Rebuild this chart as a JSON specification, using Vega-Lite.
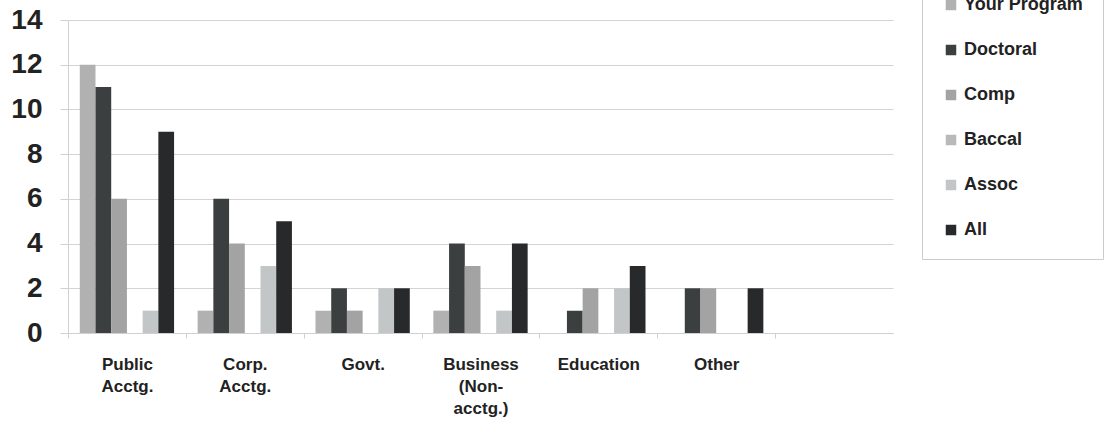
{
  "$schema": "https://vega.github.io/schema/vega-lite/v6.json",
  "width": 825,
  "height": 313,
  "autosize": "none",
  "padding": {"left": 68, "top": 20, "right": 224, "bottom": 104},
  "background": "white",
  "config": {
    "view": {"stroke": null},
    "font": "Liberation Sans"
  },
  "data": {
    "values": [
      {"category": "Public Acctg.", "series": "Your Program", "value": 12},
      {"category": "Public Acctg.", "series": "Doctoral", "value": 11},
      {"category": "Public Acctg.", "series": "Comp", "value": 6},
      {"category": "Public Acctg.", "series": "Baccal", "value": 0},
      {"category": "Public Acctg.", "series": "Assoc", "value": 1},
      {"category": "Public Acctg.", "series": "All", "value": 9},
      {"category": "Corp. Acctg.", "series": "Your Program", "value": 1},
      {"category": "Corp. Acctg.", "series": "Doctoral", "value": 6},
      {"category": "Corp. Acctg.", "series": "Comp", "value": 4},
      {"category": "Corp. Acctg.", "series": "Baccal", "value": 0},
      {"category": "Corp. Acctg.", "series": "Assoc", "value": 3},
      {"category": "Corp. Acctg.", "series": "All", "value": 5},
      {"category": "Govt.", "series": "Your Program", "value": 1},
      {"category": "Govt.", "series": "Doctoral", "value": 2},
      {"category": "Govt.", "series": "Comp", "value": 1},
      {"category": "Govt.", "series": "Baccal", "value": 0},
      {"category": "Govt.", "series": "Assoc", "value": 2},
      {"category": "Govt.", "series": "All", "value": 2},
      {"category": "Business (Non-acctg.)", "series": "Your Program", "value": 1},
      {"category": "Business (Non-acctg.)", "series": "Doctoral", "value": 4},
      {"category": "Business (Non-acctg.)", "series": "Comp", "value": 3},
      {"category": "Business (Non-acctg.)", "series": "Baccal", "value": 0},
      {"category": "Business (Non-acctg.)", "series": "Assoc", "value": 1},
      {"category": "Business (Non-acctg.)", "series": "All", "value": 4},
      {"category": "Education", "series": "Your Program", "value": 0},
      {"category": "Education", "series": "Doctoral", "value": 1},
      {"category": "Education", "series": "Comp", "value": 2},
      {"category": "Education", "series": "Baccal", "value": 0},
      {"category": "Education", "series": "Assoc", "value": 2},
      {"category": "Education", "series": "All", "value": 3},
      {"category": "Other", "series": "Your Program", "value": 0},
      {"category": "Other", "series": "Doctoral", "value": 2},
      {"category": "Other", "series": "Comp", "value": 2},
      {"category": "Other", "series": "Baccal", "value": 0},
      {"category": "Other", "series": "Assoc", "value": 0},
      {"category": "Other", "series": "All", "value": 2}
    ]
  },
  "mark": {"type": "bar"},
  "encoding": {
    "x": {
      "field": "category",
      "type": "nominal",
      "sort": null,
      "scale": {
        "domain": ["Public Acctg.", "Corp. Acctg.", "Govt.", "Business (Non-acctg.)", "Education", "Other", ""],
        "paddingInner": 0.2,
        "paddingOuter": 0.1
      },
      "axis": {
        "title": null,
        "labelAngle": 0,
        "labelExpr": "split(replace(replace(datum.value, ' ', '|'), '-', '-|'), '|')",
        "labelFont": "Liberation Sans",
        "labelFontSize": 17,
        "labelFontWeight": "bold",
        "labelColor": "#222222",
        "labelLineHeight": 22,
        "labelPadding": 18,
        "labelBaseline": "top",
        "labelOffset": 59,
        "domainColor": "#d0d0d0",
        "tickColor": "#d0d0d0",
        "tickSize": 5,
        "tickOffset": -59
      }
    },
    "xOffset": {
      "field": "series",
      "type": "nominal",
      "sort": ["Your Program", "Doctoral", "Comp", "Baccal", "Assoc", "All"],
      "scale": {"paddingInner": 0, "paddingOuter": 0}
    },
    "y": {
      "field": "value",
      "type": "quantitative",
      "scale": {"domain": [0, 14], "nice": false},
      "axis": {
        "title": null,
        "values": [0, 2, 4, 6, 8, 10, 12, 14],
        "labelFont": "Liberation Sans",
        "labelFontSize": 28,
        "labelFontWeight": "bold",
        "labelColor": "#222222",
        "labelPadding": 18,
        "ticks": true,
        "tickSize": 8,
        "tickColor": "#d0d0d0",
        "domainColor": "#d0d0d0",
        "gridColor": "#d4d4d4",
        "gridWidth": 1
      }
    },
    "color": {
      "field": "series",
      "type": "nominal",
      "sort": ["Your Program", "Doctoral", "Comp", "Baccal", "Assoc", "All"],
      "scale": {
        "domain": ["Your Program", "Doctoral", "Comp", "Baccal", "Assoc", "All"],
        "range": ["#b1b1b1", "#3c3f3f", "#a3a3a3", "#b9b9b9", "#c3c6c6", "#27292a"]
      },
      "legend": {
        "title": null,
        "orient": "none",
        "legendX": 854,
        "legendY": -44,
        "symbolType": "square",
        "symbolSize": 110,
        "symbolStrokeWidth": 0,
        "labelFont": "Liberation Sans",
        "labelFontSize": 18,
        "labelFontWeight": "bold",
        "labelColor": "#222222",
        "labelLimit": 300,
        "rowPadding": 27,
        "padding": 20,
        "strokeColor": "#cccccc",
        "fillColor": "white"
      }
    }
  }
}
